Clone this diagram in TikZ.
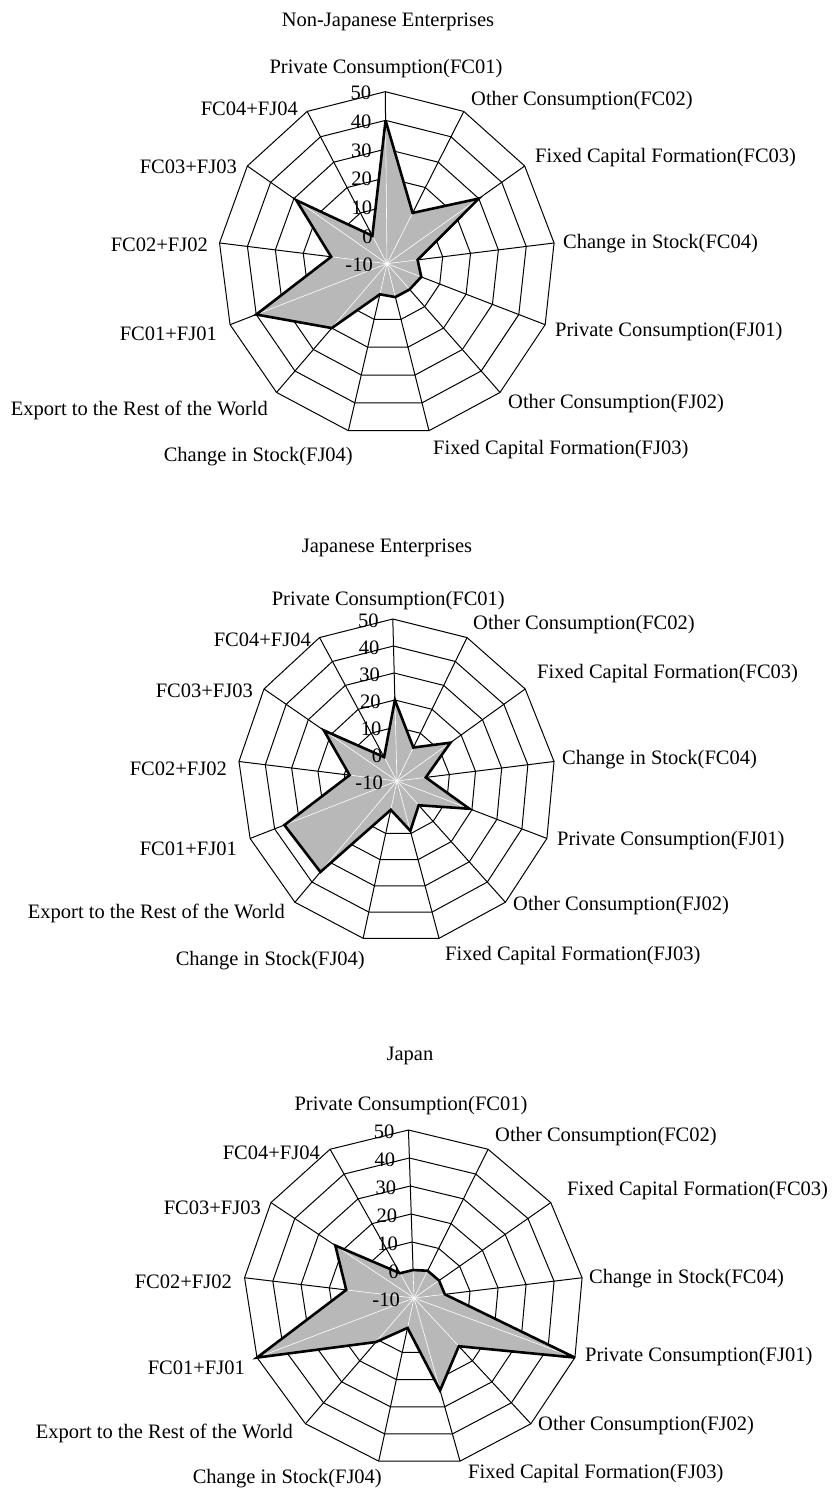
\documentclass[tikz,border=0pt]{standalone}
\usepackage{fontspec}
\setmainfont{Liberation Serif}
\tikzset{
  gridln/.style={draw=black, line width=1pt},
  datafill/.style={fill=black!28},
  dataln/.style={draw=black, line width=2.6pt, line join=miter, miter limit=4},
  lbl/.style={font=\fontsize{20.5}{24}\selectfont, inner sep=0pt, text height=14pt, text depth=4pt},
  tick/.style={lbl, anchor=east},
  lw/.style={lbl, anchor=west},
  le/.style={lbl, anchor=east},
}
\newcommand\radarchart[7]{%
  % #1 name, #2 cx, #3 cy, #4 rx, #5 ry, #6 slant, #7 data
  \coordinate (#1-o) at (#2,#3);
  \foreach \k in {0,...,12}{
    \foreach \lev in {0,...,6}{
      \coordinate (#1-r\lev-\k) at ({#2 + \lev/6*(#4*sin(\k*360/13) - #6*#5*cos(\k*360/13))}, {#3 - \lev/6*#5*cos(\k*360/13)});
    }
  }
  \foreach \lev in {1,...,6}{
    \draw[gridln] (#1-r\lev-0) \foreach \k in {1,...,12}{ -- (#1-r\lev-\k)} -- cycle;
  }
  \foreach \k in {0,...,12}{ \draw[gridln] (#1-o) -- (#1-r6-\k); }
  \foreach \v [count=\k from 0] in {#7}{
    \coordinate (#1-d\k) at ({#2 + (\v+10)/60*(#4*sin(\k*360/13) - #6*#5*cos(\k*360/13))}, {#3 - (\v+10)/60*#5*cos(\k*360/13)});
  }
  \fill[datafill] (#1-d0) \foreach \k in {1,...,12}{ -- (#1-d\k)} -- cycle;
  \foreach \k in {0,...,12}{ \draw[white, line width=0.6pt] (#1-o) -- (#1-d\k); }
  \draw[dataln] (#1-d0) \foreach \k in {1,...,12}{ -- (#1-d\k)} -- cycle;
  \foreach \lev/\t in {0/-10,1/0,2/10,3/20,4/30,5/40,6/50}{
    \node[tick] (#1-t\lev) at ([xshift=-14pt,yshift=-3pt]#1-r\lev-0) {\t};
  }
}
\begin{document}
\begin{tikzpicture}[x=1pt,y=-1pt]
\fill[white] (0,0) rectangle (834,1493);
\useasboundingbox (0,0) rectangle (834,1493);

% ---------- Chart 1 ----------
\node[lbl] (c1-title) at (388,22) {Non-Japanese Enterprises};
\radarchart{c1}{387}{263.7}{168.5}{172}{0.01}{40,10,30,1,3,2,2,1,20,40,10,29,1}
\node[lbl] (c1-l0) at (386,69) {Private Consumption(FC01)};
\node[lw] (c1-l1) at (471,101) {Other Consumption(FC02)};
\node[lw] (c1-l2) at (535,157) {Fixed Capital Formation(FC03)};
\node[lw] (c1-l3) at (563,243) {Change in Stock(FC04)};
\node[lw] (c1-l4) at (555,331) {Private Consumption(FJ01)};
\node[lw] (c1-l5) at (508,403) {Other Consumption(FJ02)};
\node[lw] (c1-l6) at (433,449) {Fixed Capital Formation(FJ03)};
\node[le] (c1-l7) at (353,456) {Change in Stock(FJ04)};
\node[le] (c1-l8) at (268,410) {Export to the Rest of the World};
\node[le] (c1-l9) at (217,335) {FC01+FJ01};
\node[le] (c1-l10) at (208,246) {FC02+FJ02};
\node[le] (c1-l11) at (237,168) {FC03+FJ03};
\node[le] (c1-l12) at (298,111) {FC04+FJ04};

% ---------- Chart 2 ----------
\node[lbl] (c2-title) at (387,547) {Japanese Enterprises};
\radarchart{c2}{397}{781}{158.7}{162}{0.026}{20,4,15,1,19,2,9,1,35,36,8,23,0}
\node[lbl] (c2-l0) at (388.3,600) {Private Consumption(FC01)};
\node[lw] (c2-l1) at (473,624) {Other Consumption(FC02)};
\node[lw] (c2-l2) at (537,673) {Fixed Capital Formation(FC03)};
\node[lw] (c2-l3) at (562,759) {Change in Stock(FC04)};
\node[lw] (c2-l4) at (557,840) {Private Consumption(FJ01)};
\node[lw] (c2-l5) at (513,905) {Other Consumption(FJ02)};
\node[lw] (c2-l6) at (445,955) {Fixed Capital Formation(FJ03)};
\node[le] (c2-l7) at (365,960) {Change in Stock(FJ04)};
\node[le] (c2-l8) at (285,913) {Export to the Rest of the World};
\node[le] (c2-l9) at (237,850) {FC01+FJ01};
\node[le] (c2-l10) at (227,770) {FC02+FJ02};
\node[le] (c2-l11) at (253,692) {FC03+FJ03};
\node[le] (c2-l12) at (311,641) {FC04+FJ04};

% ---------- Chart 3 ----------
\node[lbl] (c3-title) at (410,1055) {Japan};
\radarchart{c3}{414}{1298}{170}{168}{0.033}{0,1,1,1,50,13,24,1,11,50,14,23,0}
\node[lbl] (c3-l0) at (411,1105) {Private Consumption(FC01)};
\node[lw] (c3-l1) at (495,1136) {Other Consumption(FC02)};
\node[lw] (c3-l2) at (567,1190) {Fixed Capital Formation(FC03)};
\node[lw] (c3-l3) at (589,1278) {Change in Stock(FC04)};
\node[lw] (c3-l4) at (585,1356) {Private Consumption(FJ01)};
\node[lw] (c3-l5) at (538,1425) {Other Consumption(FJ02)};
\node[lw] (c3-l6) at (468,1473) {Fixed Capital Formation(FJ03)};
\node[le] (c3-l7) at (382,1478) {Change in Stock(FJ04)};
\node[le] (c3-l8) at (293,1433) {Export to the Rest of the World};
\node[le] (c3-l9) at (245,1369) {FC01+FJ01};
\node[le] (c3-l10) at (232,1283) {FC02+FJ02};
\node[le] (c3-l11) at (261,1209) {FC03+FJ03};
\node[le] (c3-l12) at (320,1154) {FC04+FJ04};
\end{tikzpicture}
\end{document}
